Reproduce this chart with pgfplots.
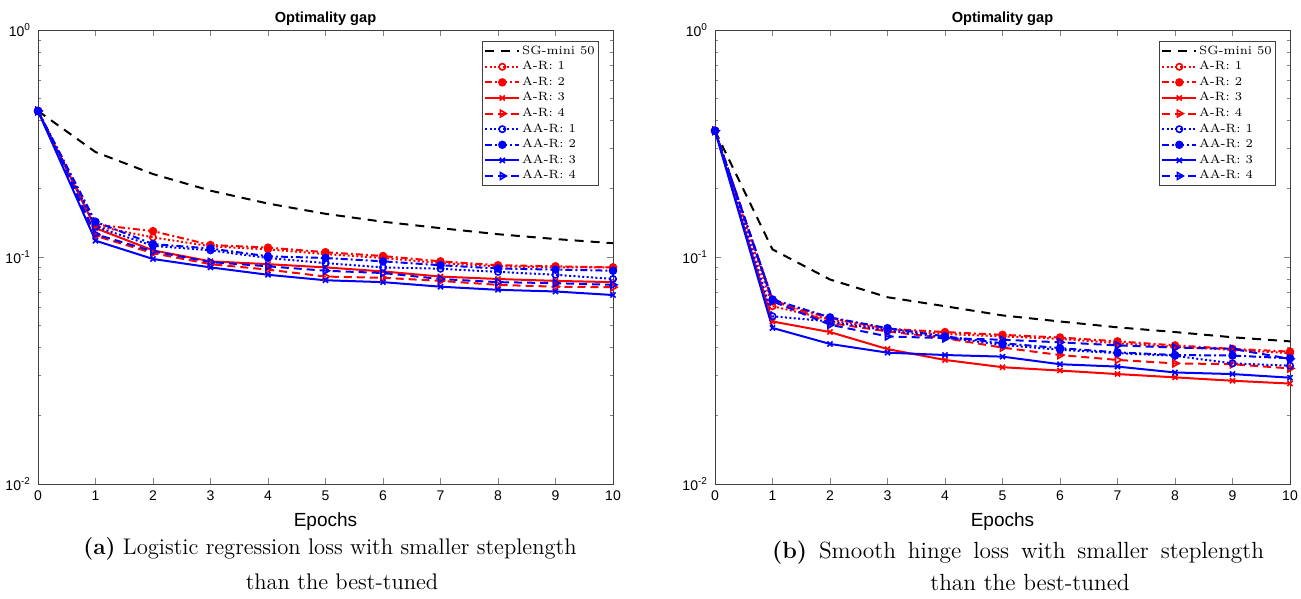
\documentclass[border=0pt]{standalone}
\usepackage{pgfplots}
\pgfplotsset{compat=1.18}
\usepackage{pgfplotstable}
\usepackage{fontspec}
\newfontfamily\arial{Liberation Sans}

\pgfplotstableread{
x sg ar1 ar2 ar3 ar4 aar1 aar2 aar3 aar4
0 0.44 0.44 0.44 0.44 0.44 0.44 0.44 0.44 0.44
1 0.29 0.137 0.139 0.134 0.124 0.136 0.143 0.118 0.126
2 0.232 0.122 0.130 0.107 0.104 0.112 0.114 0.098 0.106
3 0.196 0.1115 0.113 0.0957 0.093 0.107 0.109 0.090 0.095
4 0.172 0.108 0.110 0.093 0.088 0.099 0.1007 0.0835 0.091
5 0.155 0.103 0.105 0.090 0.082 0.094 0.099 0.079 0.087
6 0.143 0.099 0.101 0.0864 0.081 0.090 0.0957 0.0775 0.085
7 0.134 0.094 0.0957 0.082 0.0785 0.0888 0.092 0.074 0.080
8 0.126 0.091 0.092 0.080 0.0754 0.086 0.089 0.0717 0.0775
9 0.120 0.090 0.091 0.0785 0.074 0.0835 0.088 0.0705 0.0767
10 0.115 0.090 0.090 0.0775 0.0736 0.080 0.087 0.068 0.0754
}\lefttable

\pgfplotstableread{
x sg ar1 ar2 ar3 ar4 aar1 aar2 aar3 aar4
0 0.36 0.36 0.36 0.36 0.36 0.36 0.36 0.36 0.36
1 0.108 0.0607 0.0638 0.052 0.065 0.0548 0.065 0.0487 0.0638
2 0.0796 0.053 0.0538 0.0467 0.0512 0.052 0.0542 0.0414 0.0503
3 0.0665 0.048 0.0483 0.0393 0.047 0.0474 0.0486 0.0379 0.0447
4 0.0607 0.0458 0.0467 0.0352 0.0439 0.0443 0.0447 0.037 0.0439
5 0.0553 0.0447 0.0454 0.0327 0.0399 0.041 0.0417 0.0364 0.0432
6 0.052 0.0436 0.0442 0.0316 0.037 0.039 0.0397 0.0337 0.0421
7 0.049 0.0417 0.0425 0.0305 0.0352 0.0377 0.038 0.0329 0.0408
8 0.0467 0.0402 0.0408 0.0295 0.034 0.0367 0.037 0.031 0.0399
9 0.0443 0.039 0.0394 0.0285 0.0337 0.034 0.0368 0.0305 0.0394
10 0.0425 0.0377 0.0383 0.0277 0.0323 0.0332 0.0358 0.0294 0.0356
}\righttable

\tikzset{
  sgst/.style={black, line width=1pt, dash pattern=on 4.5pt off 3.5pt},
  s1/.style={line width=1pt, dash pattern=on 1pt off 1.2pt},
  s2/.style={line width=1pt, dash pattern=on 3.5pt off 1.5pt on 1pt off 1.5pt},
  s3/.style={line width=1pt, solid},
  s4/.style={line width=1pt, dash pattern=on 4pt off 2.5pt},
}
\pgfplotsset{
  m1/.style={mark=o, mark size=1.6pt, mark options={solid, line width=0.8pt}},
  m2/.style={mark=*, mark size=1.6pt, mark options={solid}},
  m3/.style={mark=x, mark size=1.8pt, mark options={solid, line width=0.8pt}},
  m4/.style={mark=triangle, mark size=2pt, mark options={solid, rotate=-90, line width=0.8pt, fill=white}},
  every axis title/.style={at={(0.5,1)}, anchor=base, yshift=4pt, font=\arial\bfseries\fontsize{7.3}{8}\selectfont},
}

\begin{document}
\begin{tikzpicture}
\path[use as bounding box] (-19pt,-57.5pt) rectangle (631.5pt,242pt);
\begin{axis}[at={(0pt,0pt)}, anchor=south west,
    ymode=log, scale only axis, width=287.5pt, height=227pt,
    xmin=0, xmax=10, ymin=0.01, ymax=1,
    xtick={0,1,2,3,4,5,6,7,8,9,10},
    ytick={0.01,0.1,1},
    yticklabels={10\textsuperscript{-2},10\textsuperscript{-1},10\textsuperscript{0}},
    tick label style={font=\arial\fontsize{7}{8}\selectfont},
    /pgf/number format/assume math mode=true,
    axis line style={black!75, line width=0.4pt},
    major tick length=3pt, minor tick length=1.6pt,
    title={Optimality gap},
    xlabel={Epochs},
    xlabel style={font=\arial\fontsize{9.5}{10}\selectfont, at={(0.5,0)}, anchor=base, yshift=-21pt},
    legend cell align=left,
    legend style={at={(0.9757,0.9758)}, anchor=north east, font=\fontsize{6}{7}\selectfont,
      draw=black!75, line width=0.4pt, inner sep=1pt,
      nodes={inner sep=0.9pt, text height=4.5pt, text depth=1.5pt}},
  ]
\addplot[sgst, mark=none] table[x=x,y=sg]{\lefttable};
\addplot[red,s1,m1] table[x=x,y=ar1]{\lefttable};
\addplot[red,s2,m2] table[x=x,y=ar2]{\lefttable};
\addplot[red,s3,m3] table[x=x,y=ar3]{\lefttable};
\addplot[red,s4,m4] table[x=x,y=ar4]{\lefttable};
\addplot[blue,s1,m1] table[x=x,y=aar1]{\lefttable};
\addplot[blue,s2,m2] table[x=x,y=aar2]{\lefttable};
\addplot[blue,s3,m3] table[x=x,y=aar3]{\lefttable};
\addplot[blue,s4,m4] table[x=x,y=aar4]{\lefttable};
\legend{SG-mini 50,A-R: 1,A-R: 2,A-R: 3,A-R: 4,AA-R: 1,AA-R: 2,AA-R: 3,AA-R: 4}
\end{axis}
\begin{axis}[at={(338.5pt,0pt)}, anchor=south west,
    ymode=log, scale only axis, width=287.5pt, height=227pt,
    xmin=0, xmax=10, ymin=0.01, ymax=1,
    xtick={0,1,2,3,4,5,6,7,8,9,10},
    ytick={0.01,0.1,1},
    yticklabels={10\textsuperscript{-2},10\textsuperscript{-1},10\textsuperscript{0}},
    tick label style={font=\arial\fontsize{7}{8}\selectfont},
    /pgf/number format/assume math mode=true,
    axis line style={black!75, line width=0.4pt},
    major tick length=3pt, minor tick length=1.6pt,
    title={Optimality gap},
    xlabel={Epochs},
    xlabel style={font=\arial\fontsize{9.5}{10}\selectfont, at={(0.5,0)}, anchor=base, yshift=-21pt},
    legend cell align=left,
    legend style={at={(0.9757,0.9758)}, anchor=north east, font=\fontsize{6}{7}\selectfont,
      draw=black!75, line width=0.4pt, inner sep=1pt,
      nodes={inner sep=0.9pt, text height=4.5pt, text depth=1.5pt}},
  ]
\addplot[sgst, mark=none] table[x=x,y=sg]{\righttable};
\addplot[red,s1,m1] table[x=x,y=ar1]{\righttable};
\addplot[red,s2,m2] table[x=x,y=ar2]{\righttable};
\addplot[red,s3,m3] table[x=x,y=ar3]{\righttable};
\addplot[red,s4,m4] table[x=x,y=ar4]{\righttable};
\addplot[blue,s1,m1] table[x=x,y=aar1]{\righttable};
\addplot[blue,s2,m2] table[x=x,y=aar2]{\righttable};
\addplot[blue,s3,m3] table[x=x,y=aar3]{\righttable};
\addplot[blue,s4,m4] table[x=x,y=aar4]{\righttable};
\legend{SG-mini 50,A-R: 1,A-R: 2,A-R: 3,A-R: 4,AA-R: 1,AA-R: 2,AA-R: 3,AA-R: 4}
\end{axis}
\node[anchor=base, font=\fontsize{11.3}{12}\selectfont, inner sep=0pt] at (146pt,-35.5pt) {\textbf{(a)} Logistic regression loss with smaller steplength};
\node[anchor=base, font=\fontsize{11.3}{12}\selectfont, inner sep=0pt] at (152pt,-53pt) {than the best-tuned};
\node[anchor=base, font=\fontsize{11.7}{12}\selectfont, inner sep=0pt] at (490pt,-37.5pt) {\makebox[246pt][s]{\textbf{(b)} Smooth hinge loss with smaller steplength}};
\node[anchor=base, font=\fontsize{11.7}{12}\selectfont, inner sep=0pt] at (496pt,-53.5pt) {than the best-tuned};
\end{tikzpicture}
\end{document}
